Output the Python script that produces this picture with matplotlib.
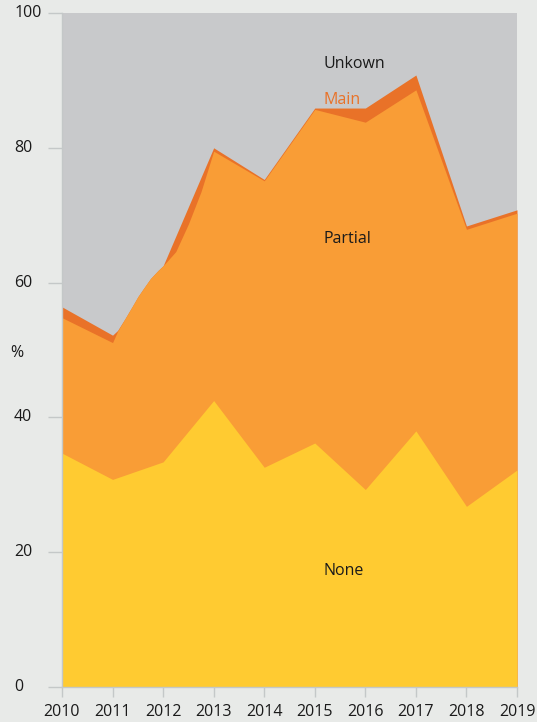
import matplotlib
matplotlib.use("Agg")
import matplotlib.pyplot as plt

# ---- data (cumulative upper boundaries, % ) ----
years = [2010, 2011, 2012, 2013, 2014, 2015, 2016, 2017, 2018, 2019]
tick_labels = [str(y) for y in years]

none_top = [34.7, 30.8, 33.4, 42.5, 32.6, 36.2, 29.3, 38.0, 26.8, 32.2]

partial_x = [2010, 2011, 2011.1, 2011.25, 2011.4, 2011.5, 2011.6, 2011.75, 2011.9, 2012,
             2012.25, 2012.5, 2012.75, 2013, 2014, 2015, 2016, 2017, 2018, 2019]
partial_top = [54.8, 51.1, 52.8, 54.7, 56.6, 57.9, 59.0, 60.6, 61.8, 62.5,
               64.6, 68.7, 73.5, 79.5, 75.1, 85.7, 83.8, 88.6, 67.9, 70.3]

main_x = [2010, 2011, 2011.1, 2011.25, 2011.4, 2011.5, 2011.6, 2011.75, 2011.9, 2012,
          2013, 2014, 2015, 2016, 2017, 2018, 2019]
main_top = [56.4, 52.2, 52.9, 54.7, 56.6, 57.9, 59.0, 60.6, 61.8, 62.5,
            80.0, 75.3, 85.9, 85.9, 90.8, 68.4, 70.8]

series_labels = ["Unkown", "Main", "Partial", "None"]
label_y = [92.5, 87.1, 66.5, 17.2]

# ---- style ----
plt.rcParams["font.family"] = ["Open Sans", "DejaVu Sans"]

bg = "#e8eae8"
c_unknown = "#c8c9cb"
c_main = "#e97228"
c_partial = "#f99d36"
c_none = "#ffcb31"
c_axis = "#c4c8c8"

fig = plt.figure(figsize=(5.37, 7.22), dpi=100, facecolor=bg)
ax = fig.add_axes([62/537, 35/722, 455/537, 674/722])
ax.set_facecolor(c_unknown)

ax.fill_between(main_x, 0, main_top, color=c_main, lw=0)
ax.fill_between(partial_x, 0, partial_top, color=c_partial, lw=0)
ax.fill_between(years, 0, none_top, color=c_none, lw=0)

ax.set_xlim(2010, 2019)
ax.set_ylim(0, 100)
ax.set_xticks(years)
ax.set_xticklabels(tick_labels)
ax.set_yticks([0, 20, 40, 60, 80, 100])

for s in ["top", "right"]:
    ax.spines[s].set_visible(False)
for s in ["left", "bottom"]:
    ax.spines[s].set_color(c_axis)
    ax.spines[s].set_linewidth(1.0)

ax.tick_params(axis="y", length=10, width=1.0, color=c_axis, pad=24.5,
               labelsize=11.5, labelcolor="#1a1a1a")
for t in ax.get_yticklabels():
    t.set_horizontalalignment("left")
    t.set_verticalalignment("center")
ax.tick_params(axis="x", length=7, width=1.0, color=c_axis, pad=5,
               labelsize=11.5, labelcolor="#1a1a1a")

ax.text(-45/455, 49.5, "%", transform=ax.get_yaxis_transform(), fontsize=11.5,
        ha="center", va="center", color="#1a1a1a")

lx = 2015.18
for lab, yv in zip(series_labels, label_y):
    ax.text(lx, yv, lab, fontsize=11.5, ha="left", va="center",
            color=c_main if lab == "Main" else "#1a1a1a")

fig.savefig("out.png", dpi=100, facecolor=bg)
